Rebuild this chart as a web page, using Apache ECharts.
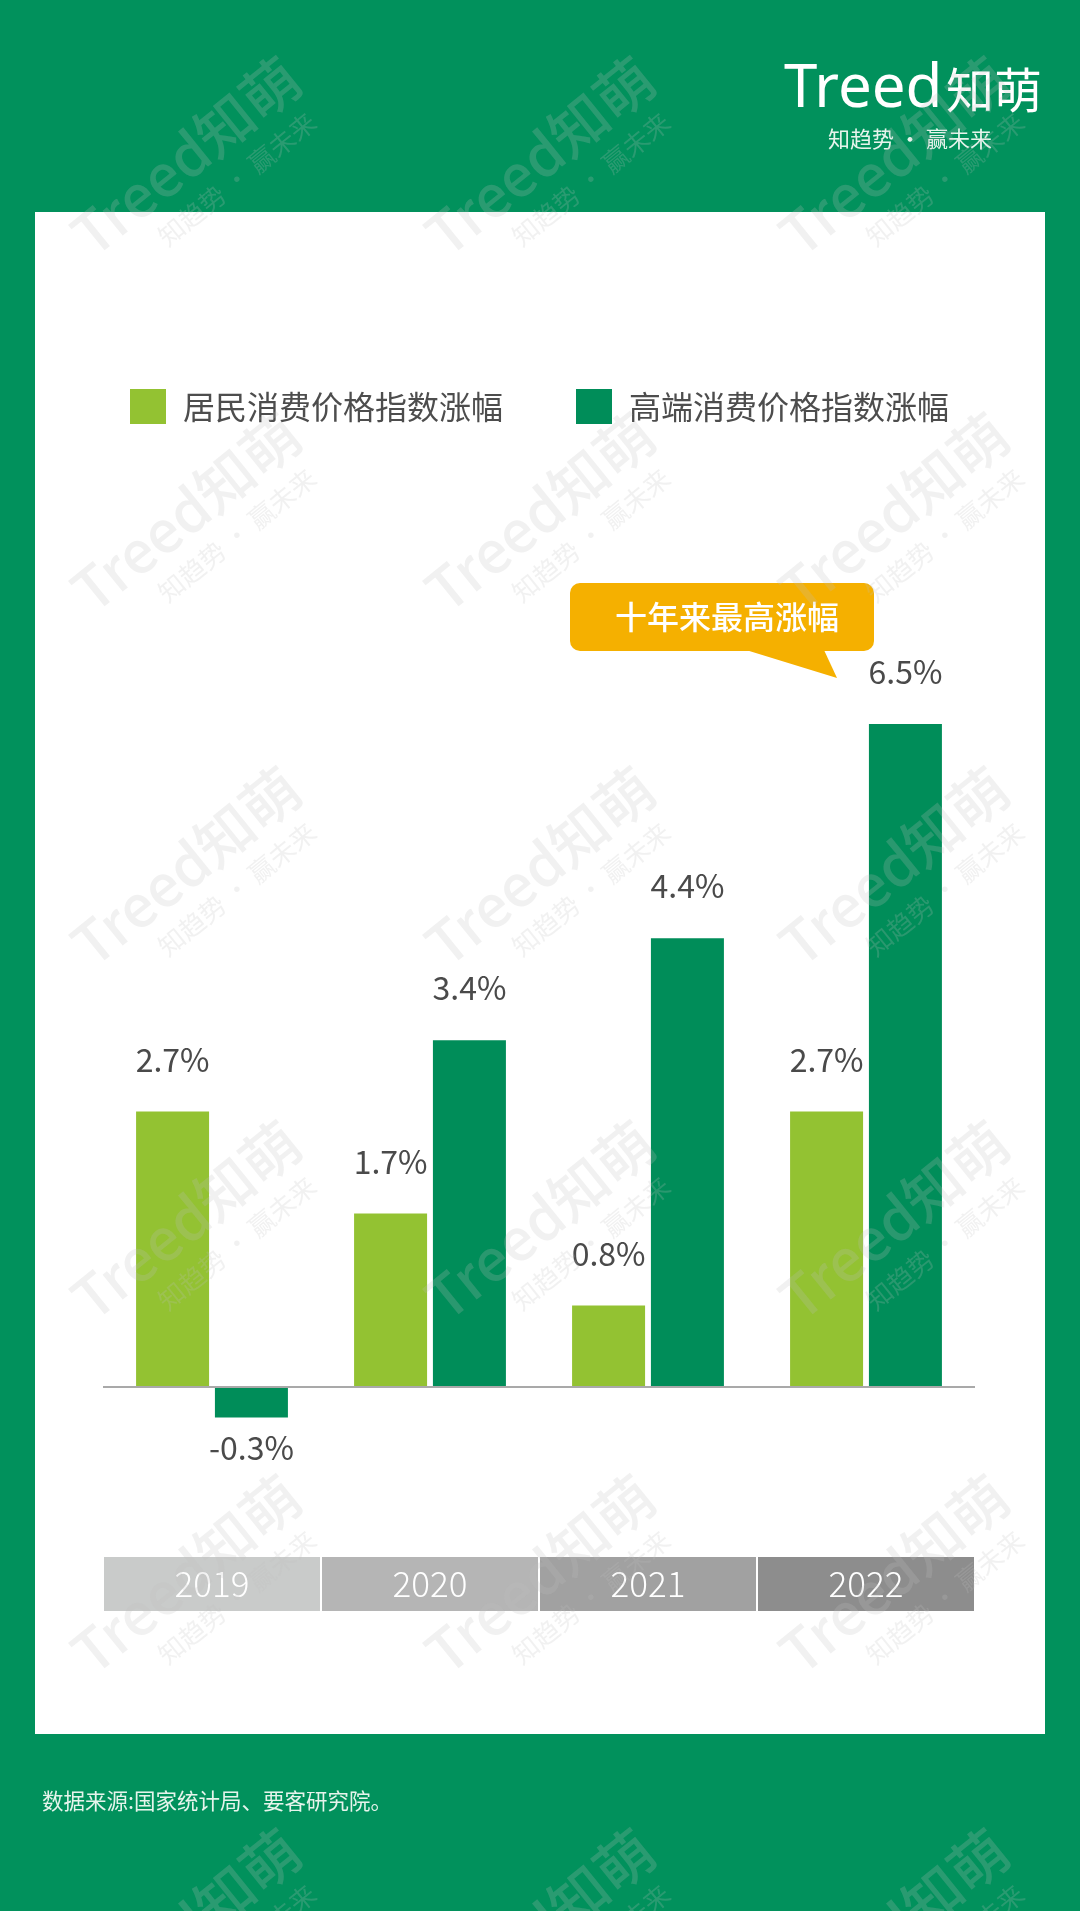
<!DOCTYPE html>
<html>
<head>
<meta charset="utf-8">
<script src="https://cdn.jsdelivr.net/npm/echarts@6/dist/echarts.min.js"></script>
<style>
html,body{margin:0;padding:0;background:#01915C;}
#chart{width:1080px;height:1911px;}
</style>
</head>
<body>
<div id="chart"></div>
<script>
// ---- data ----
const categories = ['2019', '2020', '2021', '2022'];
const cpiValues = [2.7, 1.7, 0.8, 2.7];
const luxuryValues = [-0.3, 3.4, 4.4, 6.5];
const seriesNames = ['居民消费价格指数涨幅', '高端消费价格指数涨幅'];
const calloutText = '十年来最高涨幅';
const sourceText = '数据来源:国家统计局、要客研究院。';
const logoMain = 'Treed';
const logoCn = '知萌';
const logoTag = '知趋势 · 赢未来';
const watermarkMain = 'Treed知萌';
const watermarkTag = '知趋势 · 赢未来';

// ---- styles ----
const LIGHT = '#93C232';
const DARK = '#008D59';
const BAND_COLORS = ['#C9CBCA', '#B5B5B5', '#A1A1A1', '#8D8D8D'];
const CJK = '"Noto Sans CJK SC", "Noto Sans", sans-serif';

const chart = echarts.init(document.getElementById('chart'), null, {renderer: 'canvas'});

const rich = {};
categories.forEach((c, i) => {
  rich['y' + i] = {
    width: 216, height: 54, lineHeight: 54, align: 'center',
    backgroundColor: BAND_COLORS[i], color: '#ffffff',
    fontSize: 35, fontFamily: CJK, fontWeight: 300
  };
});

const labelStyle = {
  show: true, position: 'top', distance: 36,
  color: '#4a4a4a', fontSize: 32, fontFamily: CJK,
  formatter: p => p.value + '%'
};

// watermarks
const wmX = [186, 540, 894];
const wmY = [156, 512, 866, 1220, 1574, 1928];
const watermarks = [];
wmY.forEach(y => wmX.forEach(x => {
  watermarks.push({
    type: 'group', x: x, y: y, rotation: 0.68, z: 100, silent: true,
    children: [
      {type: 'text', z: 100, style: {text: watermarkMain, x: 0, y: 0, align: 'center', verticalAlign: 'middle',
        fontSize: 58, fontFamily: CJK, fontWeight: 500, fill: 'rgba(190,190,190,0.22)'}},
      {type: 'text', z: 100, style: {text: watermarkTag, x: 25, y: 50, align: 'center', verticalAlign: 'middle',
        fontSize: 26, fontFamily: CJK, fill: 'rgba(190,190,190,0.22)'}}
    ]
  });
}));

const option = {
  backgroundColor: '#01915C',
  animation: false,
  legend: {
    left: 130, top: 389, padding: 0,
    itemWidth: 36, itemHeight: 35, itemGap: 73,
    icon: 'rect',
    textStyle: {fontSize: 32, color: '#4d4d4d', fontFamily: CJK, padding: [0, 0, 0, 12]},
    data: seriesNames
  },
  grid: {left: 103, right: 105, top: 673, bottom: 422, containLabel: false},
  xAxis: {
    type: 'category', data: categories,
    axisLine: {show: false, onZero: false}, axisTick: {show: false},
    axisLabel: {
      interval: 0, margin: 68,
      formatter: (v, i) => '{y' + i + '|' + v + '}',
      rich: rich
    }
  },
  yAxis: {
    type: 'value', min: -1, max: 7, interval: 1,
    show: false, splitLine: {show: false}
  },
  series: [
    {
      name: seriesNames[0], type: 'bar', data: cpiValues,
      barWidth: 73, barGap: '8%',
      itemStyle: {color: LIGHT},
      label: labelStyle,
      markLine: {
        silent: true, symbol: 'none',
        label: {show: false},
        lineStyle: {color: '#A9A9A9', width: 2, type: 'solid'},
        data: [{yAxis: 0}]
      }
    },
    {
      name: seriesNames[1], type: 'bar',
      data: luxuryValues.map(v => v < 0 ? {value: v, label: {position: 'bottom', distance: 14}} : v),
      barWidth: 73, barGap: '8%',
      itemStyle: {color: DARK},
      label: labelStyle
    }
  ],
  graphic: []
};

chart.setOption(option);

// callout anchored to the 2022 high-end bar
const tipBase = chart.convertToPixel({xAxisIndex: 0, yAxisIndex: 0}, [categories[3], luxuryValues[3]]);
const tx = tipBase[0] - 29, ty = tipBase[1] - 46;

const graphics = [
  {type: 'rect', z: -10, silent: true, shape: {x: 35, y: 212, width: 1010, height: 1522},
    style: {fill: '#ffffff'}},
  // logo
  {type: 'text', z: 10, style: {text: logoMain, x: 784, y: 90, verticalAlign: 'middle', align: 'left',
    fontSize: 60, fontFamily: '"Noto Sans", sans-serif', fontWeight: 400, fill: '#ffffff'}},
  {type: 'text', z: 10, style: {text: logoCn, x: 946, y: 90, verticalAlign: 'middle', align: 'left',
    fontSize: 48, fontFamily: CJK, fontWeight: 400, fill: '#ffffff'}},
  {type: 'text', z: 10, style: {text: logoTag, x: 910, y: 139, verticalAlign: 'middle', align: 'center',
    fontSize: 22, fontFamily: CJK, fill: '#e6f4ec'}},
  // source
  {type: 'text', z: 10, style: {text: sourceText, x: 42, y: 1801, verticalAlign: 'middle', align: 'left',
    fontSize: 21.5, fontFamily: CJK, fill: '#e6f4ec'}},
  // callout
  {type: 'rect', z: 20, shape: {x: tx - 267, y: ty - 95, width: 304, height: 68, r: 10},
    style: {fill: '#F5B000'}},
  {type: 'polygon', z: 20, shape: {points: [[tx - 91, ty - 28], [tx - 13, ty - 28], [tx, ty]]},
    style: {fill: '#F5B000'}},
  {type: 'text', z: 21, style: {text: calloutText, x: tx - 110, y: ty - 61, align: 'center', verticalAlign: 'middle',
    fontSize: 32, fontFamily: CJK, fontWeight: 500, fill: '#ffffff'}}
].concat(watermarks);

chart.setOption({graphic: graphics});
</script>
</body>
</html>
